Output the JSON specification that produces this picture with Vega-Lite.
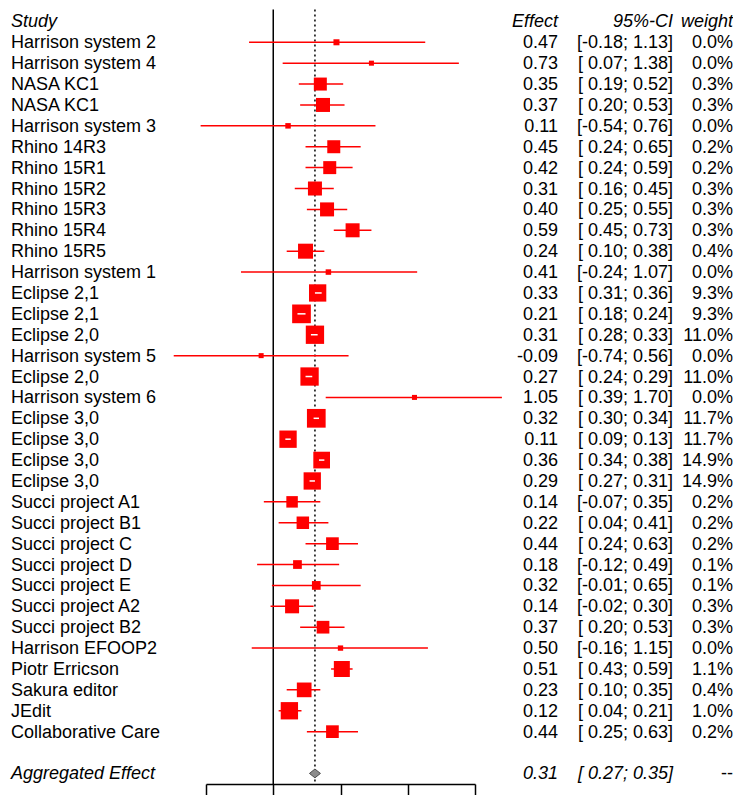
{
  "$schema": "https://vega.github.io/schema/vega-lite/v6.json",
  "padding": {"left": 11, "top": 0, "right": 0, "bottom": 0},
  "spacing": 0,
  "bounds": "flush",
  "config": {
    "view": {"stroke": null},
    "font": "Liberation Sans",
    "text": {"font": "Liberation Sans", "fontSize": 18, "color": "#000000", "dy": 1},
    "locale": {"number": {"decimal": ".", "thousands": ",", "grouping": [3], "currency": ["$", ""], "minus": "-"}}
  },
  "datasets": {
    "studies": [
      {"row": 1, "study": "Harrison system 2", "effect": 0.47, "lower": -0.18, "upper": 1.13, "ci": "[-0.18; 1.13]", "weight": 0.0, "w_random": 0.59},
      {"row": 2, "study": "Harrison system 4", "effect": 0.73, "lower": 0.07, "upper": 1.38, "ci": "[ 0.07; 1.38]", "weight": 0.0, "w_random": 0.41},
      {"row": 3, "study": "NASA KC1", "effect": 0.35, "lower": 0.19, "upper": 0.52, "ci": "[ 0.19; 0.52]", "weight": 0.003, "w_random": 2.75},
      {"row": 4, "study": "NASA KC1", "effect": 0.37, "lower": 0.20, "upper": 0.53, "ci": "[ 0.20; 0.53]", "weight": 0.003, "w_random": 3.19},
      {"row": 5, "study": "Harrison system 3", "effect": 0.11, "lower": -0.54, "upper": 0.76, "ci": "[-0.54; 0.76]", "weight": 0.0, "w_random": 0.49},
      {"row": 6, "study": "Rhino 14R3", "effect": 0.45, "lower": 0.24, "upper": 0.65, "ci": "[ 0.24; 0.65]", "weight": 0.002, "w_random": 2.75},
      {"row": 7, "study": "Rhino 15R1", "effect": 0.42, "lower": 0.24, "upper": 0.59, "ci": "[ 0.24; 0.59]", "weight": 0.002, "w_random": 2.75},
      {"row": 8, "study": "Rhino 15R2", "effect": 0.31, "lower": 0.16, "upper": 0.45, "ci": "[ 0.16; 0.45]", "weight": 0.003, "w_random": 3.19},
      {"row": 9, "study": "Rhino 15R3", "effect": 0.40, "lower": 0.25, "upper": 0.55, "ci": "[ 0.25; 0.55]", "weight": 0.003, "w_random": 3.19},
      {"row": 10, "study": "Rhino 15R4", "effect": 0.59, "lower": 0.45, "upper": 0.73, "ci": "[ 0.45; 0.73]", "weight": 0.003, "w_random": 3.19},
      {"row": 11, "study": "Rhino 15R5", "effect": 0.24, "lower": 0.10, "upper": 0.38, "ci": "[ 0.10; 0.38]", "weight": 0.004, "w_random": 3.66},
      {"row": 12, "study": "Harrison system 1", "effect": 0.41, "lower": -0.24, "upper": 1.07, "ci": "[-0.24; 1.07]", "weight": 0.0, "w_random": 0.49},
      {"row": 13, "study": "Eclipse 2,1", "effect": 0.33, "lower": 0.31, "upper": 0.36, "ci": "[ 0.31; 0.36]", "weight": 0.093, "w_random": 4.88},
      {"row": 14, "study": "Eclipse 2,1", "effect": 0.21, "lower": 0.18, "upper": 0.24, "ci": "[ 0.18; 0.24]", "weight": 0.093, "w_random": 5.69},
      {"row": 15, "study": "Eclipse 2,0", "effect": 0.31, "lower": 0.28, "upper": 0.33, "ci": "[ 0.28; 0.33]", "weight": 0.110, "w_random": 5.45},
      {"row": 16, "study": "Harrison system 5", "effect": -0.09, "lower": -0.74, "upper": 0.56, "ci": "[-0.74; 0.56]", "weight": 0.0, "w_random": 0.41},
      {"row": 17, "study": "Eclipse 2,0", "effect": 0.27, "lower": 0.24, "upper": 0.29, "ci": "[ 0.24; 0.29]", "weight": 0.110, "w_random": 5.45},
      {"row": 18, "study": "Harrison system 6", "effect": 1.05, "lower": 0.39, "upper": 1.70, "ci": "[ 0.39; 1.70]", "weight": 0.0, "w_random": 0.41},
      {"row": 19, "study": "Eclipse 3,0", "effect": 0.32, "lower": 0.30, "upper": 0.34, "ci": "[ 0.30; 0.34]", "weight": 0.117, "w_random": 5.69},
      {"row": 20, "study": "Eclipse 3,0", "effect": 0.11, "lower": 0.09, "upper": 0.13, "ci": "[ 0.09; 0.13]", "weight": 0.117, "w_random": 4.88},
      {"row": 21, "study": "Eclipse 3,0", "effect": 0.36, "lower": 0.34, "upper": 0.38, "ci": "[ 0.34; 0.38]", "weight": 0.149, "w_random": 4.54},
      {"row": 22, "study": "Eclipse 3,0", "effect": 0.29, "lower": 0.27, "upper": 0.31, "ci": "[ 0.27; 0.31]", "weight": 0.149, "w_random": 4.88},
      {"row": 23, "study": "Succi project A1", "effect": 0.14, "lower": -0.07, "upper": 0.35, "ci": "[-0.07; 0.35]", "weight": 0.002, "w_random": 2.15},
      {"row": 24, "study": "Succi project B1", "effect": 0.22, "lower": 0.04, "upper": 0.41, "ci": "[ 0.04; 0.41]", "weight": 0.002, "w_random": 2.54},
      {"row": 25, "study": "Succi project C", "effect": 0.44, "lower": 0.24, "upper": 0.63, "ci": "[ 0.24; 0.63]", "weight": 0.002, "w_random": 2.62},
      {"row": 26, "study": "Succi project D", "effect": 0.18, "lower": -0.12, "upper": 0.49, "ci": "[-0.12; 0.49]", "weight": 0.001, "w_random": 1.24},
      {"row": 27, "study": "Succi project E", "effect": 0.32, "lower": -0.01, "upper": 0.65, "ci": "[-0.01; 0.65]", "weight": 0.001, "w_random": 1.24},
      {"row": 28, "study": "Succi project A2", "effect": 0.14, "lower": -0.02, "upper": 0.30, "ci": "[-0.02; 0.30]", "weight": 0.003, "w_random": 3.19},
      {"row": 29, "study": "Succi project B2", "effect": 0.37, "lower": 0.20, "upper": 0.53, "ci": "[ 0.20; 0.53]", "weight": 0.003, "w_random": 2.62},
      {"row": 30, "study": "Harrison EFOOP2", "effect": 0.50, "lower": -0.16, "upper": 1.15, "ci": "[-0.16; 1.15]", "weight": 0.0, "w_random": 0.46},
      {"row": 31, "study": "Piotr Erricson", "effect": 0.51, "lower": 0.43, "upper": 0.59, "ci": "[ 0.43; 0.59]", "weight": 0.011, "w_random": 4.16},
      {"row": 32, "study": "Sakura editor", "effect": 0.23, "lower": 0.10, "upper": 0.35, "ci": "[ 0.10; 0.35]", "weight": 0.004, "w_random": 3.51},
      {"row": 33, "study": "JEdit", "effect": 0.12, "lower": 0.04, "upper": 0.21, "ci": "[ 0.04; 0.21]", "weight": 0.010, "w_random": 4.88},
      {"row": 34, "study": "Collaborative Care", "effect": 0.44, "lower": 0.25, "upper": 0.63, "ci": "[ 0.25; 0.63]", "weight": 0.002, "w_random": 2.62}
    ],
    "header": [
      {"row": 0, "study": "Study", "effect": "Effect", "ci": "95%-CI", "weight": "weight"}
    ],
    "pooled": [
      {"row": 36, "study": "Aggregated Effect", "effect": 0.31, "lower": 0.27, "upper": 0.35, "ci": "[ 0.27; 0.35]", "weight": "--"}
    ]
  },
  "hconcat": [
    {
      "width": 195,
      "height": 784,
      "layer": [
        {
          "data": {"name": "studies"},
          "mark": {"type": "text", "align": "left", "baseline": "middle"},
          "encoding": {
            "x": {"value": 0},
            "y": {"field": "row", "type": "quantitative", "scale": {"domain": [-1.024, 36.506], "reverse": true, "nice": false, "zero": false}, "axis": null},
            "text": {"field": "study"}
          }
        },
        {
          "data": {"name": "header"},
          "mark": {"type": "text", "align": "left", "baseline": "middle", "fontStyle": "italic"},
          "encoding": {
            "x": {"value": 0},
            "y": {"field": "row", "type": "quantitative", "scale": {"domain": [-1.024, 36.506], "reverse": true, "nice": false, "zero": false}, "axis": null},
            "text": {"field": "study"}
          }
        },
        {
          "data": {"name": "pooled"},
          "mark": {"type": "text", "align": "left", "baseline": "middle", "fontStyle": "italic"},
          "encoding": {
            "x": {"value": 0},
            "y": {"field": "row", "type": "quantitative", "scale": {"domain": [-1.024, 36.506], "reverse": true, "nice": false, "zero": false}, "axis": null},
            "text": {"field": "study"}
          }
        }
      ]
    },
    {
      "width": 269,
      "height": 784,
      "layer": [
        {
          "data": {"values": [{}]},
          "mark": {"type": "rule", "color": "#000000", "strokeWidth": 1.5},
          "encoding": {
            "x": {"datum": 0, "type": "quantitative", "scale": {"domain": [-0.5, 1.5], "nice": false, "zero": false}, "axis": {"values": [-0.5, 0, 0.5, 1, 1.5], "title": null, "grid": false, "labels": false, "domainColor": "#000000", "domainWidth": 1.5, "tickColor": "#000000", "tickWidth": 1.5, "tickSize": 12}},
            "y": {"datum": -0.57, "type": "quantitative", "scale": {"domain": [-1.024, 36.506], "reverse": true, "nice": false, "zero": false}, "axis": null},
            "y2": {"datum": 36.506}
          }
        },
        {
          "data": {"name": "pooled"},
          "mark": {"type": "rule", "color": "#000000", "strokeWidth": 1.5, "strokeDash": [2, 3]},
          "encoding": {
            "x": {"field": "effect", "type": "quantitative", "scale": {"domain": [-0.5, 1.5], "nice": false, "zero": false}, "axis": {"values": [-0.5, 0, 0.5, 1, 1.5], "title": null, "grid": false, "labels": false, "domainColor": "#000000", "domainWidth": 1.5, "tickColor": "#000000", "tickWidth": 1.5, "tickSize": 12}},
            "y": {"datum": -0.57, "type": "quantitative", "scale": {"domain": [-1.024, 36.506], "reverse": true, "nice": false, "zero": false}, "axis": null},
            "y2": {"datum": 36.506}
          }
        },
        {
          "data": {"name": "studies"},
          "mark": {"type": "rule", "color": "#ff0000", "strokeWidth": 1.5},
          "encoding": {
            "x": {"field": "lower", "type": "quantitative", "scale": {"domain": [-0.5, 1.5], "nice": false, "zero": false}, "axis": {"values": [-0.5, 0, 0.5, 1, 1.5], "title": null, "grid": false, "labels": false, "domainColor": "#000000", "domainWidth": 1.5, "tickColor": "#000000", "tickWidth": 1.5, "tickSize": 12}},
            "x2": {"field": "upper"},
            "y": {"field": "row", "type": "quantitative", "scale": {"domain": [-1.024, 36.506], "reverse": true, "nice": false, "zero": false}, "axis": null}
          }
        },
        {
          "data": {"name": "studies"},
          "mark": {"type": "point", "shape": "square", "filled": true, "color": "#ff0000", "opacity": 1, "strokeWidth": 0},
          "encoding": {
            "x": {"field": "effect", "type": "quantitative", "scale": {"domain": [-0.5, 1.5], "nice": false, "zero": false}, "axis": {"values": [-0.5, 0, 0.5, 1, 1.5], "title": null, "grid": false, "labels": false, "domainColor": "#000000", "domainWidth": 1.5, "tickColor": "#000000", "tickWidth": 1.5, "tickSize": 12}},
            "y": {"field": "row", "type": "quantitative", "scale": {"domain": [-1.024, 36.506], "reverse": true, "nice": false, "zero": false}, "axis": null},
            "size": {"field": "w_random", "type": "quantitative", "scale": {"type": "linear", "domain": [0, 6], "range": [0, 369], "zero": true}, "legend": null}
          }
        },
        {
          "data": {"name": "studies"},
          "transform": [{"filter": "datum.upper - datum.lower < 0.1"}],
          "mark": {"type": "rule", "color": "#ffffff", "strokeWidth": 1.5},
          "encoding": {
            "x": {"field": "lower", "type": "quantitative", "scale": {"domain": [-0.5, 1.5], "nice": false, "zero": false}, "axis": {"values": [-0.5, 0, 0.5, 1, 1.5], "title": null, "grid": false, "labels": false, "domainColor": "#000000", "domainWidth": 1.5, "tickColor": "#000000", "tickWidth": 1.5, "tickSize": 12}},
            "x2": {"field": "upper"},
            "y": {"field": "row", "type": "quantitative", "scale": {"domain": [-1.024, 36.506], "reverse": true, "nice": false, "zero": false}, "axis": null}
          }
        },
        {
          "data": {"name": "pooled"},
          "mark": {"type": "point", "shape": "M-1,0L0,-0.8L1,0L0,0.8Z", "filled": true, "fill": "#8c8c8c", "stroke": "#4d4d4d", "strokeWidth": 1, "opacity": 1, "size": 121},
          "encoding": {
            "x": {"field": "effect", "type": "quantitative", "scale": {"domain": [-0.5, 1.5], "nice": false, "zero": false}, "axis": {"values": [-0.5, 0, 0.5, 1, 1.5], "title": null, "grid": false, "labels": false, "domainColor": "#000000", "domainWidth": 1.5, "tickColor": "#000000", "tickWidth": 1.5, "tickSize": 12}},
            "y": {"field": "row", "type": "quantitative", "scale": {"domain": [-1.024, 36.506], "reverse": true, "nice": false, "zero": false}, "axis": null}
          }
        }
      ]
    },
    {
      "width": 83,
      "height": 784,
      "layer": [
        {
          "data": {"name": "studies"},
          "mark": {"type": "text", "align": "right", "baseline": "middle"},
          "encoding": {
            "x": {"value": "width"},
            "y": {"field": "row", "type": "quantitative", "scale": {"domain": [-1.024, 36.506], "reverse": true, "nice": false, "zero": false}, "axis": null},
            "text": {"field": "effect", "type": "quantitative", "format": ".2f"}
          }
        },
        {
          "data": {"name": "header"},
          "mark": {"type": "text", "align": "right", "baseline": "middle", "fontStyle": "italic"},
          "encoding": {
            "x": {"value": "width"},
            "y": {"field": "row", "type": "quantitative", "scale": {"domain": [-1.024, 36.506], "reverse": true, "nice": false, "zero": false}, "axis": null},
            "text": {"field": "effect"}
          }
        },
        {
          "data": {"name": "pooled"},
          "mark": {"type": "text", "align": "right", "baseline": "middle", "fontStyle": "italic"},
          "encoding": {
            "x": {"value": "width"},
            "y": {"field": "row", "type": "quantitative", "scale": {"domain": [-1.024, 36.506], "reverse": true, "nice": false, "zero": false}, "axis": null},
            "text": {"field": "effect", "type": "quantitative", "format": ".2f"}
          }
        }
      ]
    },
    {
      "width": 115,
      "height": 784,
      "layer": [
        {
          "data": {"name": "studies"},
          "mark": {"type": "text", "align": "right", "baseline": "middle"},
          "encoding": {
            "x": {"value": "width"},
            "y": {"field": "row", "type": "quantitative", "scale": {"domain": [-1.024, 36.506], "reverse": true, "nice": false, "zero": false}, "axis": null},
            "text": {"field": "ci"}
          }
        },
        {
          "data": {"name": "header"},
          "mark": {"type": "text", "align": "right", "baseline": "middle", "fontStyle": "italic"},
          "encoding": {
            "x": {"value": "width"},
            "y": {"field": "row", "type": "quantitative", "scale": {"domain": [-1.024, 36.506], "reverse": true, "nice": false, "zero": false}, "axis": null},
            "text": {"field": "ci"}
          }
        },
        {
          "data": {"name": "pooled"},
          "mark": {"type": "text", "align": "right", "baseline": "middle", "fontStyle": "italic"},
          "encoding": {
            "x": {"value": "width"},
            "y": {"field": "row", "type": "quantitative", "scale": {"domain": [-1.024, 36.506], "reverse": true, "nice": false, "zero": false}, "axis": null},
            "text": {"field": "ci"}
          }
        }
      ]
    },
    {
      "width": 60,
      "height": 784,
      "layer": [
        {
          "data": {"name": "studies"},
          "mark": {"type": "text", "align": "right", "baseline": "middle"},
          "encoding": {
            "x": {"value": "width"},
            "y": {"field": "row", "type": "quantitative", "scale": {"domain": [-1.024, 36.506], "reverse": true, "nice": false, "zero": false}, "axis": null},
            "text": {"field": "weight", "type": "quantitative", "format": ".1%"}
          }
        },
        {
          "data": {"name": "header"},
          "mark": {"type": "text", "align": "right", "baseline": "middle", "fontStyle": "italic"},
          "encoding": {
            "x": {"value": "width"},
            "y": {"field": "row", "type": "quantitative", "scale": {"domain": [-1.024, 36.506], "reverse": true, "nice": false, "zero": false}, "axis": null},
            "text": {"field": "weight"}
          }
        },
        {
          "data": {"name": "pooled"},
          "mark": {"type": "text", "align": "right", "baseline": "middle"},
          "encoding": {
            "x": {"value": "width"},
            "y": {"field": "row", "type": "quantitative", "scale": {"domain": [-1.024, 36.506], "reverse": true, "nice": false, "zero": false}, "axis": null},
            "text": {"field": "weight"}
          }
        }
      ]
    }
  ]
}
